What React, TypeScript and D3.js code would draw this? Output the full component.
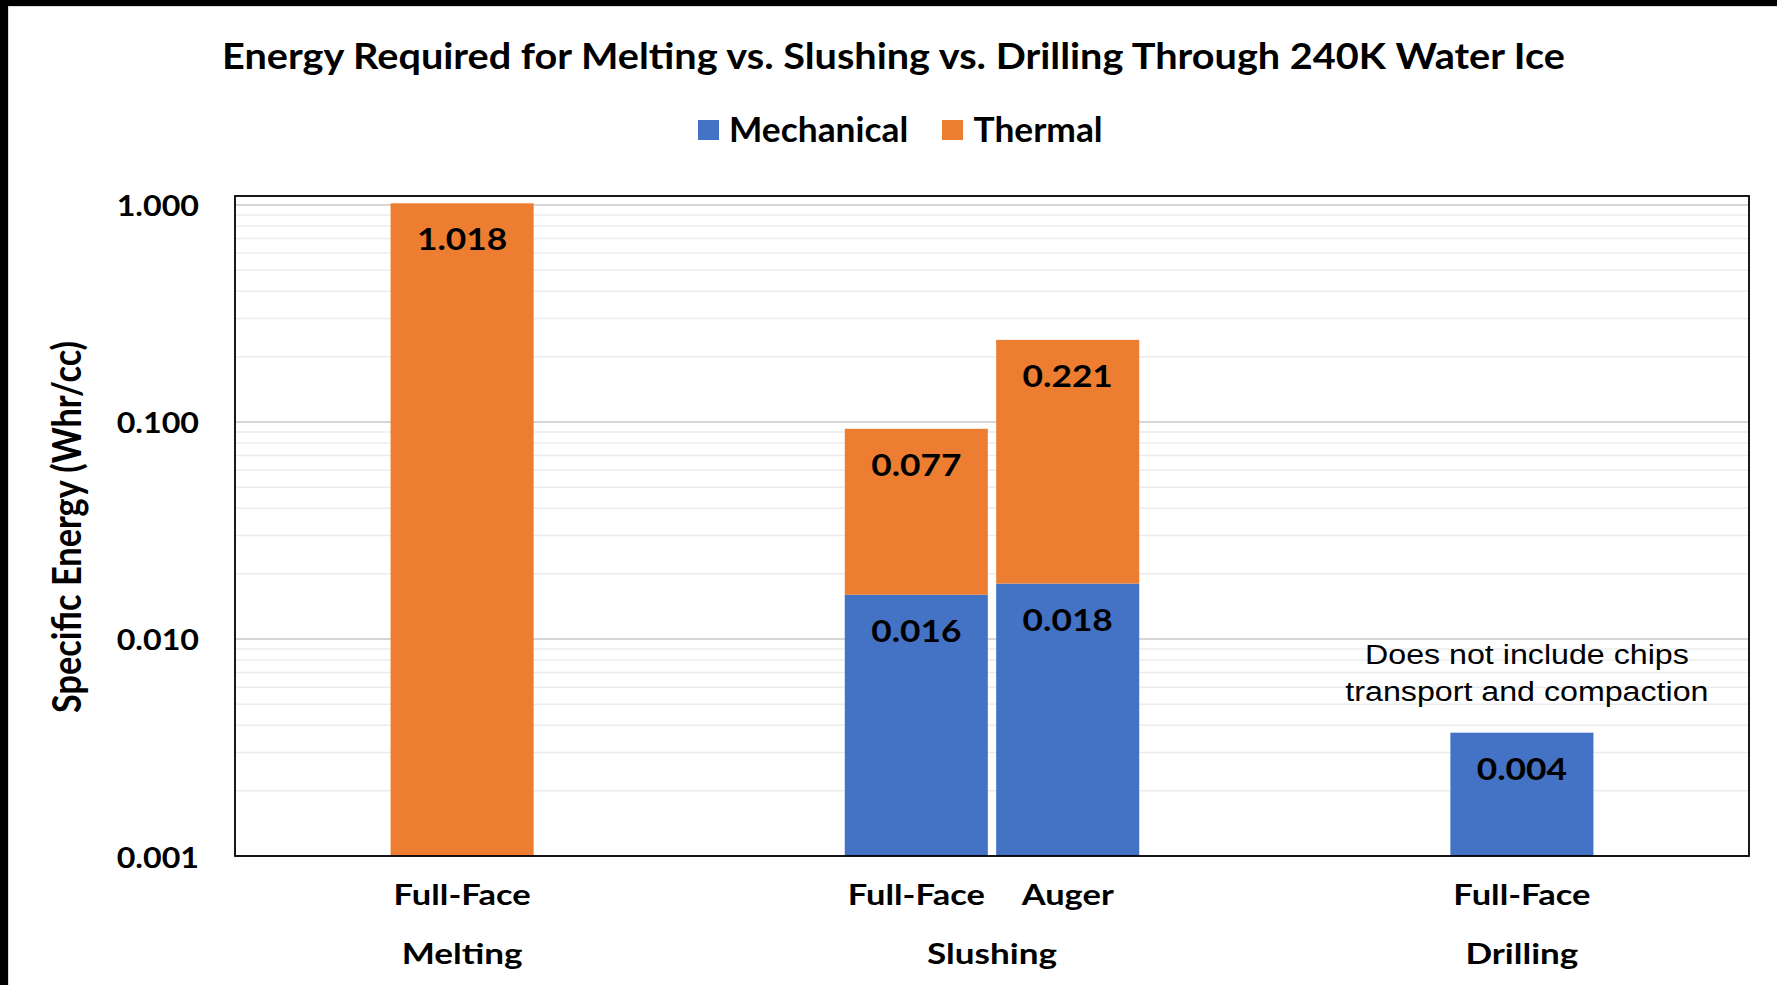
import React from "react";
import * as d3 from "d3";

// ---------- data ----------
const categories = ["", "Full-Face", "", "", "Full-Face", "Auger", "", "", "Full-Face", ""];
const groups = ["", "Melting", "", "", "Slushing", "Slushing", "", "", "Drilling", ""];
const seriesKeys = ["Mechanical", "Thermal"];
const mechanical = [0, 0, 0, 0, 0.016, 0.018, 0, 0, 0.0037, 0];
const thermal = [0, 1.018, 0, 0, 0.077, 0.221, 0, 0, 0, 0];
const yTicks = [0.001, 0.01, 0.1, 1];
const yDomain: [number, number] = [0.001, 1.1];
const titleText = "Energy Required for Melting vs. Slushing vs. Drilling Through 240K Water Ice";
const yTitleText = "Specific Energy (Whr/cc)";
const noteCategory = 8;
const noteLines = ["Does not include chips", "transport and compaction"];

// ---------- style ----------
const W = 1777;
const H = 985;
const M = { left: 235, right: 1749, top: 196, bottom: 856 };
const COLORS: Record<string, string> = { Mechanical: "#4472C4", Thermal: "#ED7D31" };
const SX = 1.15; // horizontal stretch of text
const FONT = "Lato, 'Open Sans', sans-serif";
const NOTE_FONT = "'Liberation Sans', Arial, sans-serif";

function T(props: {
  x: number;
  y: number;
  size: number;
  anchor?: string;
  weight?: string | number;
  family?: string;
  sx?: number;
  children: React.ReactNode;
}) {
  const { x, y, size, anchor = "middle", weight = 700, family = FONT, sx = SX } = props;
  return (
    <text
      transform={`translate(${x},${y}) scale(${sx},1)`}
      fontSize={size}
      fontFamily={family}
      fontWeight={weight}
      textAnchor={anchor}
      fill="#000"
    >
      {props.children}
    </text>
  );
}

export default function App() {
  const idx = categories.map((_, i) => i);
  const x = d3
    .scaleBand<number>()
    .domain(idx)
    .range([M.left, M.right])
    .paddingInner(0.055)
    .paddingOuter(0.0275);
  const y = d3.scaleLog().domain(yDomain).range([M.bottom, M.top]);

  const rows = idx.map((i) => ({ i, Mechanical: mechanical[i], Thermal: thermal[i] }));
  const stack = d3.stack<any>().keys(seriesKeys)(rows);
  const yc = (v: number) => y(Math.max(v, yDomain[0]));
  const fmt = d3.format(".3f");

  // minor gridlines
  const minor: number[] = [];
  for (let e = -3; e <= 0; e++) {
    for (let k = 2; k <= 9; k++) {
      const v = k * Math.pow(10, e);
      if (v <= yDomain[1] && v >= yDomain[0]) minor.push(v);
    }
  }

  // group centers
  const groupNames = Array.from(new Set(groups.filter((g) => g)));
  const groupCenters = groupNames.map((g) => {
    const ids = idx.filter((i) => groups[i] === g);
    const a = x(ids[0])! + x.bandwidth() / 2;
    const b = x(ids[ids.length - 1])! + x.bandwidth() / 2;
    return { g, cx: (a + b) / 2 };
  });

  const noteX = x(noteCategory)! + x.bandwidth() / 2 + 5;
  const noteTop = yc(mechanical[noteCategory] + thermal[noteCategory]);

  const legendItems = [
    { key: "Mechanical", sx: 698, tx: 729 },
    { key: "Thermal", sx: 942, tx: 973.5 },
  ];

  return (
    <svg
      width={W}
      height={H}
      style={{ position: "absolute", left: 0, top: 0, background: "#fff" }}
    >
      <rect x={0} y={0} width={W} height={H} fill="#fff" />
      {/* outer frame */}
      <rect x={0} y={0} width={W} height={6} fill="#000" />
      <rect x={0} y={0} width={8} height={H} fill="#000" />
      <line x1={8.5} x2={8.5} y1={6} y2={H} stroke="#d9d9d9" strokeWidth={1} />
      <line x1={8} x2={W} y1={6.5} y2={6.5} stroke="#d9d9d9" strokeWidth={1} />

      {/* title */}
      <T x={893.5} y={69} size={35.7} sx={1.111}>
        {titleText}
      </T>

      {/* legend */}
      {legendItems.map((l) => (
        <g key={l.key}>
          <rect x={l.sx} y={120} width={21} height={20} fill={COLORS[l.key]} />
          <T x={l.tx} y={141.5} size={35} anchor="start" sx={1.01}>
            {l.key}
          </T>
        </g>
      ))}

      {/* gridlines */}
      {minor.map((v) => (
        <line
          key={"m" + v}
          x1={M.left}
          x2={M.right}
          y1={y(v)}
          y2={y(v)}
          stroke="#ececec"
          strokeWidth={1.5}
        />
      ))}
      {yTicks.map((v) => (
        <line
          key={"g" + v}
          x1={M.left}
          x2={M.right}
          y1={y(v)}
          y2={y(v)}
          stroke="#d6d6d6"
          strokeWidth={1.8}
        />
      ))}

      {/* bars */}
      {stack.map((s) => (
        <g key={s.key} fill={COLORS[s.key]}>
          {s.map((d: any, j: number) => {
            const v = d[1] - d[0];
            if (!(v > 0)) return null;
            const top = yc(d[1]);
            const bot = yc(d[0]);
            return (
              <rect
                key={j}
                x={x(d.data.i)}
                width={x.bandwidth()}
                y={top}
                height={bot - top}
              />
            );
          })}
        </g>
      ))}

      {/* bar labels */}
      {stack.map((s) => (
        <g key={"l" + s.key}>
          {s.map((d: any, j: number) => {
            const v = d[1] - d[0];
            if (!(v > 0)) return null;
            const top = yc(d[1]);
            return (
              <T key={j} x={x(d.data.i)! + x.bandwidth() / 2} y={top + 47} size={30.7}>
                {fmt(v)}
              </T>
            );
          })}
        </g>
      ))}

      {/* plot border */}
      <rect
        x={M.left}
        y={M.top}
        width={M.right - M.left}
        height={M.bottom - M.top}
        fill="none"
        stroke="#000"
        strokeWidth={1.8}
      />

      {/* y ticks */}
      {yTicks.map((v) => (
        <T key={"t" + v} x={199} y={y(v) + 11.5} size={28} anchor="end">
          {fmt(v)}
        </T>
      ))}

      {/* y title */}
      <g transform={`translate(81,527) rotate(-90)`}>
        <text
          fontSize={34.3}
          fontFamily={FONT}
          fontWeight={700}
          textAnchor="middle"
          transform={`scale(1,${SX})`}
        >
          {yTitleText}
        </text>
      </g>

      {/* x labels */}
      {idx.map((i) =>
        categories[i] ? (
          <T key={"c" + i} x={x(i)! + x.bandwidth() / 2} y={905} size={28.5} sx={1.21}>
            {categories[i]}
          </T>
        ) : null
      )}
      {groupCenters.map((g) => (
        <T key={"gc" + g.g} x={g.cx} y={963.5} size={28.5} sx={1.23}>
          {g.g}
        </T>
      ))}

      {/* note */}
      {noteLines.map((line, k) => (
        <T
          key={"n" + k}
          x={noteX}
          y={noteTop - 69 + k * 37}
          size={28}
          weight={400}
          family={NOTE_FONT}
        >
          {line}
        </T>
      ))}
    </svg>
  );
}
